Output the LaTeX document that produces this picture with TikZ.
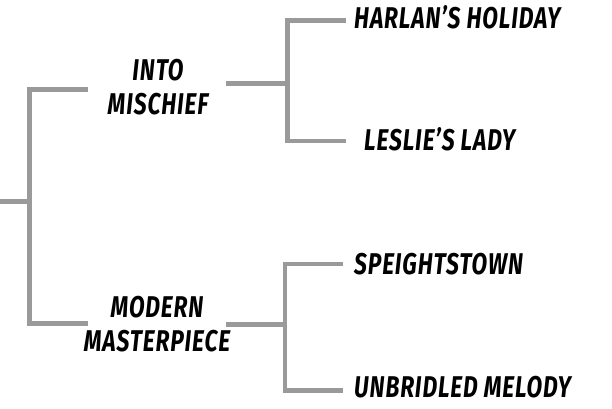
\documentclass[tikz,border=0pt]{standalone}
\usepackage{fontspec}
\newfontfamily\hfont[FakeStretch=0.76,LetterSpace=3]{Fira Sans}
\definecolor{linkgray}{HTML}{9A9A9A}
\tikzset{
  link/.style={draw=linkgray, line width=4.5pt, line join=miter, line cap=butt},
  horse/.style={font=\hfont\bfseries\itshape\fontsize{30}{34}\selectfont, inner sep=0pt, align=center},
  leaf/.style={horse, anchor=base west},
}
\begin{document}
\begin{tikzpicture}[x=1pt,y=-1pt]
\useasboundingbox (0,0) rectangle (612,408);
% names
\node[horse] (im) at (158,87.5) {INTO\\MISCHIEF};
\node[horse] (mm) at (157,324) {MODERN\\MASTERPIECE};
\node[leaf] (hh) at (354,28) {HARLAN’S HOLIDAY};
\node[leaf] (ll) at (364,150) {LESLIE’S LADY};
\node[leaf] (sp) at (354,274) {SPEIGHTSTOWN};
\node[leaf] (um) at (354,397) {UNBRIDLED MELODY};
% junction coordinates
\coordinate (root) at (0,201.7);
\coordinate (rv) at (29.5,201.7);
\coordinate (imL) at (88,89.5);
\coordinate (mmL) at (88,323.5);
\coordinate (imR) at (226,83.5);
\coordinate (mmR) at (226,324.5);
\coordinate (hhL) at (346,20.5);
\coordinate (llL) at (346,141);
\coordinate (spL) at (343,264);
\coordinate (umL) at (343,390.7);
\coordinate (j1) at (287.5,83.5);
\coordinate (j2) at (285,324.5);
% connectors
\draw[link] (root) -- (rv);
\draw[link] (imL) -| (rv) |- (mmL);
\draw[link] (imR) -- (j1);
\draw[link] (hhL) -| (j1) |- (llL);
\draw[link] (mmR) -- (j2);
\draw[link] (spL) -| (j2) |- (umL);
\end{tikzpicture}
\end{document}
